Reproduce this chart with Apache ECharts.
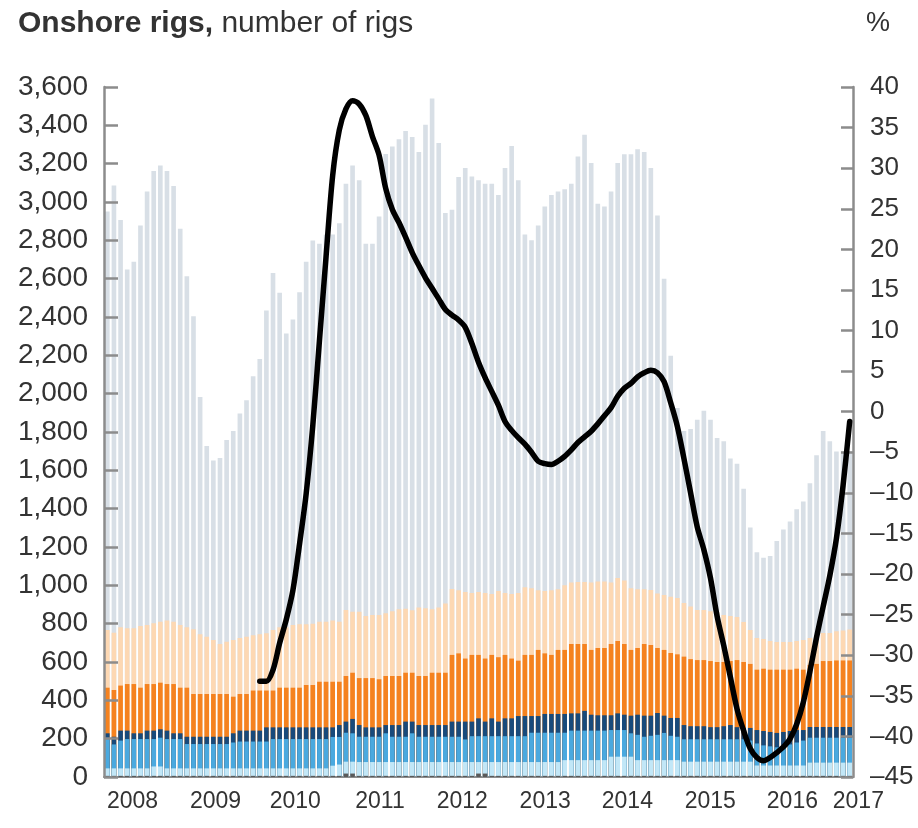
<!DOCTYPE html>
<html><head><meta charset="utf-8">
<script src="https://cdn.jsdelivr.net/npm/echarts@6/dist/echarts.min.js"></script>
<style>html,body{margin:0;padding:0;background:#fff}#c{width:918px;height:828px}</style>
</head><body><div id="c"></div>
<script>
// ---------- DATA ----------
const yearLabels = ['2008','2009','2010','2011','2012','2013','2014','2015','2016','2017'];
const monthNames = ['Jan','Feb','Mar','Apr','May','Jun','Jul','Aug','Sep','Oct','Nov','Dec'];
const leftTicks = [0, 3600, 200];
const rightTicks = [-45, 40, 5];

// top of each coloured band (cumulative number of rigs), Jan 2008 .. May 2017
const totalTop = [2950,3086,2906,2648,2688,2877,3055,3162,3190,3162,3084,2861,
  2612,2404,1982,1727,1651,1665,1758,1805,1897,1966,2091,2181,
  2434,2629,2527,2314,2387,2529,2688,2799,2782,2830,2830,2889,
  3095,3190,3114,2782,2782,2924,3251,3290,3327,3370,3339,3261,
  3403,3540,3308,2943,2960,3130,3178,3133,3114,3095,3095,3036,
  3178,3292,3114,2830,2801,2877,2977,3036,3055,3067,3095,3237,
  3351,3204,2991,2977,3055,3204,3249,3249,3275,3261,3178,2929,
  2600,2198,1925,1805,1816,1864,1911,1864,1769,1752,1662,1634,
  1504,1302,1172,1144,1153,1231,1291,1333,1397,1437,1532,1679,
  1805,1752,1698,1698,1700];
const peachTop = [767,753,781,776,776,788,793,802,810,816,810,793,
  781,771,745,732,715,694,706,715,725,732,740,745,
  750,767,781,781,793,797,797,800,810,810,816,810,
  871,862,862,840,845,845,855,865,875,878,870,885,
  880,875,885,905,981,975,965,960,965,960,955,970,
  960,955,960,990,985,975,970,975,980,1000,1015,1018,
  1018,1015,1020,1020,1015,1038,1025,985,980,980,976,958,
  950,940,934,908,890,871,871,865,860,845,840,835,
  809,767,725,720,710,704,704,704,710,715,725,735,
  751,751,760,765,770];
const orangeTop = [466,454,477,485,485,466,485,485,492,485,485,466,
  466,433,433,433,433,433,433,419,433,433,451,451,
  451,451,466,466,466,466,480,480,497,497,497,497,
  527,544,516,516,516,510,527,527,527,544,544,527,
  527,544,544,544,637,645,618,637,637,618,637,625,
  637,618,607,637,637,663,645,637,663,663,694,694,
  694,663,673,673,694,710,694,663,673,694,689,673,
  663,647,640,628,615,610,610,605,600,600,605,610,
  600,590,560,565,560,560,560,560,565,560,585,590,
  605,605,608,608,608];
const navyTop = [228,210,242,242,228,228,242,242,249,242,228,228,
  210,210,210,210,210,210,210,228,242,242,242,242,
  259,259,259,259,259,259,259,259,259,259,259,271,
  289,303,271,259,259,259,271,271,271,289,289,271,
  271,271,271,271,289,289,289,289,306,289,306,289,
  306,306,318,318,318,318,329,329,329,329,332,332,
  345,325,322,322,322,332,325,320,325,320,320,334,
  320,308,308,271,265,265,265,260,260,265,271,260,
  256,256,245,240,235,230,235,240,245,245,261,261,
  261,261,261,261,261];
const blueTop = [198,170,190,198,198,198,198,198,205,198,198,198,
  172,172,172,172,172,172,172,180,185,185,185,185,
  185,198,198,198,198,198,198,198,198,198,209,209,
  231,228,210,210,210,210,228,210,210,210,228,210,
  210,210,210,210,210,210,196,213,213,213,213,213,
  213,213,213,213,231,231,231,231,231,231,242,242,
  242,242,242,242,245,245,245,228,220,210,215,220,
  230,215,210,197,197,197,197,197,197,197,197,197,
  197,190,175,165,160,155,165,170,180,190,205,205,
  205,205,205,205,205];
const paleTop = [45,45,45,45,45,45,45,55,55,45,45,45,
  45,45,45,45,45,45,45,45,45,45,45,45,
  45,45,45,45,45,45,45,45,45,45,59,65,
  80,80,78,78,78,78,78,78,78,78,78,78,
  78,78,78,78,78,78,78,78,78,78,78,78,
  78,78,78,78,78,78,78,78,78,88,88,88,
  88,88,88,88,106,106,106,106,88,88,88,88,
  88,88,88,80,80,80,80,80,80,80,80,80,
  80,80,60,60,60,60,60,60,60,60,75,75,
  75,75,75,75,75];
const darkTop = [6,6,6,6,6,6,6,6,6,6,6,6,
  6,6,6,6,6,6,6,6,6,6,6,6,
  6,6,6,6,6,6,6,6,6,6,6,6,
  18,18,6,6,6,6,6,6,6,6,6,6,
  6,6,6,6,6,6,6,6,18,18,6,6,
  6,6,6,6,6,6,6,6,6,6,6,6,
  6,6,6,6,6,6,6,6,6,6,6,6,
  6,6,6,6,6,6,6,6,6,6,6,6,
  6,6,6,6,6,6,6,6,6,6,6,6,
  6,6,6,6,6];
// % change line (right axis)
const pctChange = [null,null,null,null,null,null,null,null,null,null,null,null,
  null,null,null,null,null,null,null,null,null,null,null,-33.2,
  -33.2,-31.8,-28.5,-25.6,-22.0,-16.3,-10.1,-1.7,8.7,19.1,29.1,34.7,
  37.3,38.3,37.9,36.5,33.9,31.6,27.5,24.9,23.3,21.5,19.6,18.0,
  16.5,15.2,13.9,12.6,11.9,11.3,10.4,8.4,6.1,4.2,2.5,0.8,
  -1.2,-2.3,-3.2,-4.0,-5.0,-6.1,-6.4,-6.5,-6.1,-5.5,-4.7,-3.8,
  -3.1,-2.4,-1.5,-0.5,0.5,1.9,2.9,3.5,4.3,4.8,5.1,4.8,
  3.7,1.1,-1.8,-5.8,-10.0,-14.2,-17.0,-20.5,-25.2,-28.8,-32.7,-36.6,
  -39.3,-41.5,-42.6,-43.0,-42.6,-42.0,-41.3,-40.3,-38.5,-35.8,-32.0,-27.8,
  -24.0,-20.2,-15.6,-9.1,-1.2];

// ---------- LAYOUT ----------
const categories = [];
for (let i = 0; i < totalTop.length; i++) {
  categories.push(monthNames[i % 12] + ' ' + (2008 + Math.floor(i / 12)));
}
// where the year labels sit along the axis (in bar units, left edge of text)
const yearLabelPos = [0.45, 12.97, 25.0, 37.9, 50.2, 62.7, 75.1, 87.6, 100.0, 109.95];

const FONT = 'Liberation Sans, Arial, Helvetica, sans-serif';
const TXT = '#333333';
const AX = '#8c8c8c';

function bar(name, data, color) {
  return {
    name, type: 'bar', data, xAxisIndex: 0, yAxisIndex: 0,
    barWidth: '70%', barGap: '-100%',
    itemStyle: { color }, silent: true, animation: false
  };
}

const chart = echarts.init(document.getElementById('c'), null, { renderer: 'canvas' });
chart.setOption({
  animation: false,
  backgroundColor: '#ffffff',
  textStyle: { fontFamily: FONT },
  title: [
    {
      text: '{b|Onshore rigs,}{n| number of rigs}',
      left: 13, top: 4,
      textStyle: {
        fontWeight: 'normal',
        rich: {
          b: { fontFamily: FONT, fontSize: 30, fontWeight: 'bold', color: TXT },
          n: { fontFamily: FONT, fontSize: 30, fontWeight: 'normal', color: TXT }
        }
      }
    },
    {
      text: '%', left: 861, top: 5,
      textStyle: { fontFamily: FONT, fontSize: 27, fontWeight: 'normal', color: TXT }
    }
  ],
  grid: { left: 104, right: 65, top: 87, bottom: 51, containLabel: false },
  xAxis: [
    {
      type: 'category', data: categories, boundaryGap: true,
      axisLine: { show: true, lineStyle: { color: AX, width: 2 } },
      axisTick: { show: false }, axisLabel: { show: false }, splitLine: { show: false }
    },
    {
      type: 'value', min: 0, max: totalTop.length, position: 'bottom',
      axisLine: { show: false }, axisTick: { show: false }, splitLine: { show: false },
      axisLabel: {
        customValues: yearLabelPos,
        align: 'left', margin: 13,
        fontFamily: FONT, fontSize: 23, color: TXT,
        formatter: function (v) {
          let best = 0, bd = 1e9;
          yearLabelPos.forEach((p, i) => { const d = Math.abs(p - v); if (d < bd) { bd = d; best = i; } });
          return yearLabels[best];
        }
      }
    }
  ],
  yAxis: [
    {
      type: 'value', min: leftTicks[0], max: leftTicks[1], interval: leftTicks[2], position: 'left',
      z: 5,
      axisLine: { show: true, lineStyle: { color: AX, width: 2.5 } },
      axisTick: { show: true, inside: true, length: 14, lineStyle: { color: AX, width: 2.5 } },
      splitLine: { show: false },
      axisLabel: {
        margin: 16, fontFamily: FONT, fontSize: 28, color: TXT,
        formatter: v => v.toLocaleString('en-US')
      }
    },
    {
      type: 'value', min: rightTicks[0], max: rightTicks[1], interval: rightTicks[2], position: 'right',
      z: 5,
      axisLine: { show: true, lineStyle: { color: AX, width: 2.5 } },
      axisTick: { show: true, inside: true, length: 12, lineStyle: { color: AX, width: 2.5 } },
      splitLine: { show: false },
      axisLabel: {
        margin: 17, fontFamily: FONT, fontSize: 26, color: TXT,
        formatter: v => (v < 0 ? '\u2013' + Math.abs(v) : String(v))
      }
    }
  ],
  series: [
    bar('Total', totalTop, '#d8dfe6'),
    bar('Peach', peachTop, '#fdd8b3'),
    bar('Orange', orangeTop, '#f5821f'),
    bar('Navy', navyTop, '#184a7b'),
    bar('Blue', blueTop, '#4aa9df'),
    bar('Pale', paleTop, '#c2e7f7'),
    bar('Dark', darkTop, '#5a5a5a'),
    {
      name: 'Change', type: 'line', data: pctChange, xAxisIndex: 0, yAxisIndex: 1,
      showSymbol: false, smooth: 0.3, connectNulls: false,
      lineStyle: { color: '#000000', width: 5.5, cap: 'round', join: 'round' },
      z: 10, silent: true, animation: false
    }
  ]
});
</script>
</body></html>
